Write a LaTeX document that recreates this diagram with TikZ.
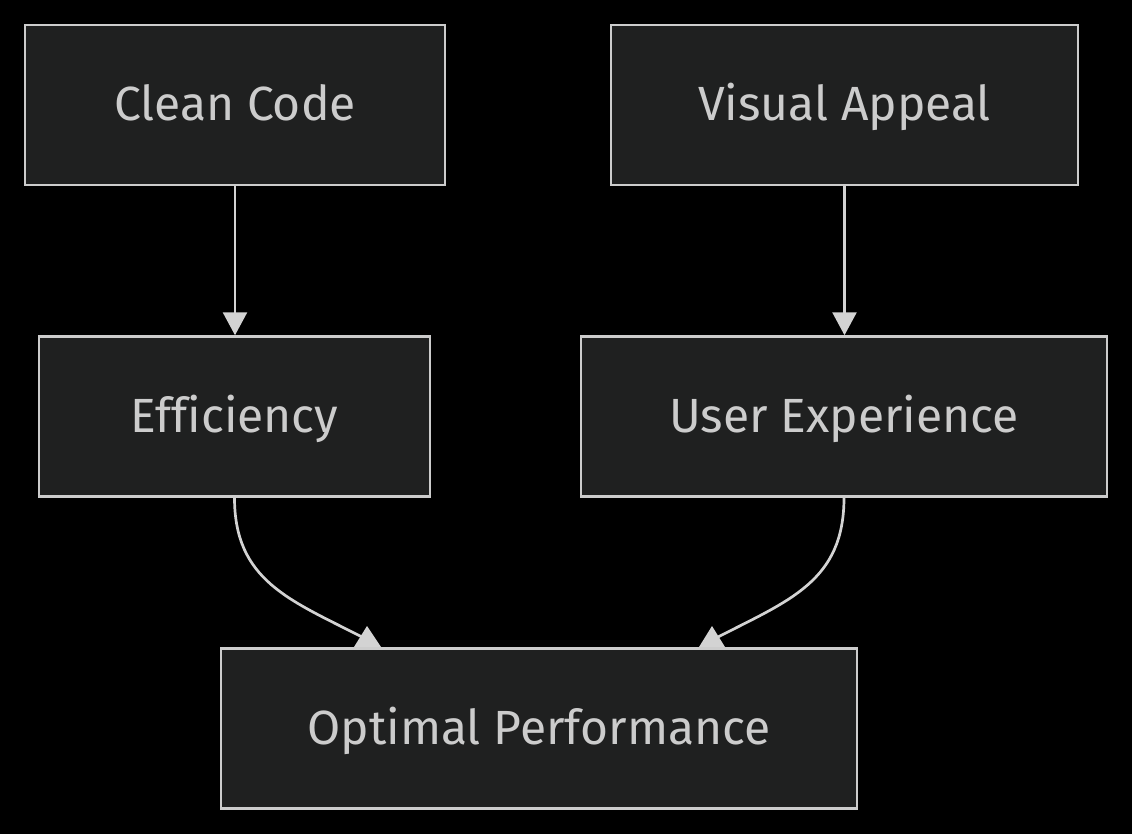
\documentclass[tikz,border=0pt]{standalone}
\usepackage{fontspec}
\setmainfont{Fira Sans}[Ligatures=NoCommon]
\usetikzlibrary{arrows.meta}
\definecolor{bg}{HTML}{000000}
\definecolor{boxfill}{HTML}{1F2020}
\definecolor{boxline}{HTML}{CCCCCC}
\definecolor{txt}{HTML}{CCCCCC}
\definecolor{edge}{HTML}{D3D3D3}
\tikzset{
  box/.style={draw=boxline, fill=boxfill, line width=2.5pt, text=txt,
    minimum height=160pt, inner sep=0pt, text height=36pt, text depth=4pt,
    font=\fontsize{48}{56}\selectfont},
  link/.style={draw=edge, line width=2.7pt},
  vlink/.style={link, -{Triangle[length=23pt,width=24pt]}},
  tipfill/.style={fill=edge}
}
\begin{document}
\begin{tikzpicture}[x=1pt,y=-1pt]
\fill[bg] (0,0) rectangle (1132,834);
\useasboundingbox (0,0) rectangle (1132,834);
\node[box, minimum width=420pt] (cc) at (235,105) {Clean Code};
\node[box, minimum width=467pt] (va) at (844.5,105) {Visual Appeal};
\node[box, minimum width=391pt] (ef) at (234.5,416.5) {Efficiency};
\node[box, minimum width=526pt] (ux) at (844,416.5) {User Experience};
\node[box, minimum width=636pt] (op) at (539,728.5) {Optimal Performance};
\draw[vlink] (cc.south) -- (cc.south |- ef.north);
\draw[vlink] (va.south) -- (va.south |- ux.north);
\coordinate (le) at (362,637);
\coordinate (re) at (718,637);
\draw[link] (ef.south) .. controls ([yshift=-83pt]ef.south) and (290,600) .. (le);
\draw[link] (ux.south) .. controls ([yshift=-83pt]ux.south) and (790,600) .. (re);
\fill[tipfill] (367,626) -- (381,647) -- (354,647) -- cycle;
\fill[tipfill] (712,626) -- (725,647) -- (699,647) -- cycle;
\end{tikzpicture}
\end{document}
